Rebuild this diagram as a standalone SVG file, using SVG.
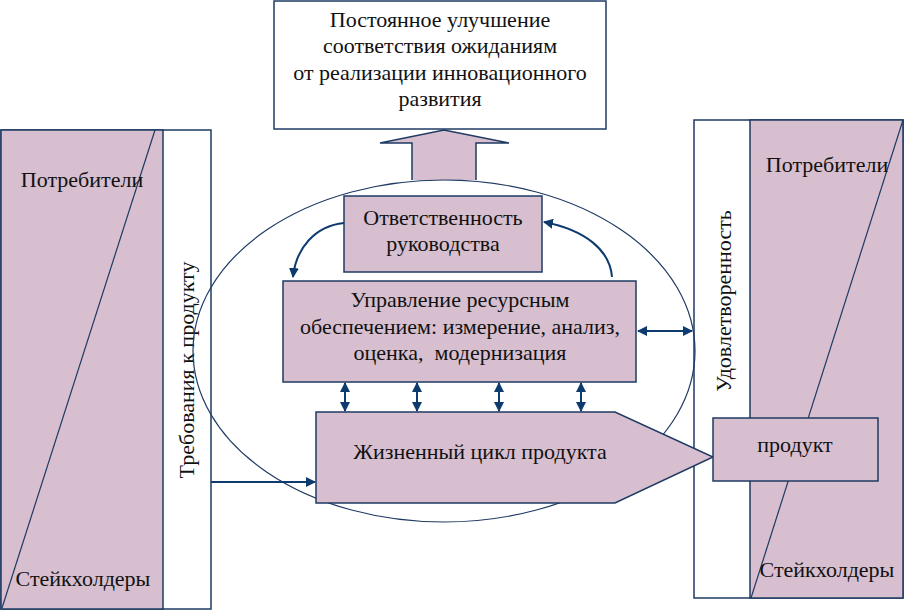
<svg xmlns="http://www.w3.org/2000/svg" width="905" height="611" viewBox="0 0 905 611">
<defs>
<style>
.pink{fill:#d7bfcf;stroke:#1f3a63;stroke-width:1.5}
.white{fill:#fff;stroke:#1f3a63;stroke-width:1.5}
.ln{fill:none;stroke:#1f3a63;stroke-width:1.2}
.ar{fill:none;stroke:#0d3b6e;stroke-width:2}
.t{font-family:'Liberation Serif',serif;font-size:22px;fill:#111;text-anchor:middle}
</style>
<marker id="ah" viewBox="0 0 10 10" refX="9" refY="5" markerWidth="5" markerHeight="5" orient="auto-start-reverse" markerUnits="strokeWidth">
<path d="M0,0 L10,5 L0,10 z" fill="#0d3b6e"/>
</marker>
</defs>
<rect width="905" height="611" fill="#fff"/>

<g id="left-panel">
<rect class="white" x="1" y="130" width="210" height="479"/>
<rect class="pink" x="1" y="130" width="162" height="479"/>
<line class="ln" x1="155" y1="130" x2="2" y2="608"/>
<text class="t" x="82" y="187">Потребители</text>
<text class="t" x="83" y="586">Стейкхолдеры</text>
<text class="t" transform="translate(194,370) rotate(-90)">Требования к продукту</text>
</g>

<g id="right-panel">
<rect class="white" x="694" y="120" width="209" height="478"/>
<rect class="pink" x="750" y="120" width="153" height="478"/>
<line class="ln" x1="903" y1="120" x2="751" y2="598"/>
<text class="t" x="827" y="172">Потребители</text>
<text class="t" x="827" y="577">Стейкхолдеры</text>
<text class="t" transform="translate(731,301) rotate(-90)">Удовлетворенность</text>
</g>

<g id="top-box">
<rect class="white" x="274" y="1" width="332" height="128"/>
<text class="t" x="440" y="27">Постоянное улучшение</text>
<text class="t" x="440" y="53">соответствия ожиданиям</text>
<text class="t" x="440" y="80">от реализации инновационного</text>
<text class="t" x="440" y="106">развития</text>
</g>

<g id="big-arrow">
<path class="pink" d="M412,180 L412,143 L380,143 L444,130 L509,143 L476,143 L476,180"/>
</g>

<g id="ellipse">
<ellipse class="ln" cx="444" cy="351" rx="251" ry="171"/>
</g>

<g id="responsibility">
<rect class="pink" x="344" y="196" width="198" height="76"/>
<text class="t" x="443" y="225">Ответственность</text>
<text class="t" x="443" y="251">руководства</text>
</g>

<g id="resources">
<rect class="pink" x="283" y="281" width="353" height="101"/>
<text class="t" x="460" y="307" font-size="22.5">Управление ресурсным</text>
<text class="t" x="460" y="334" font-size="22.5">обеспечением: измерение, анализ,</text>
<text class="t" x="460" y="360" font-size="22.5" xml:space="preserve">оценка,  модернизация</text>
</g>

<g id="lifecycle">
<path class="pink" d="M316,412 L615,412 L713,457 L615,503 L316,503 Z"/>
<text class="t" x="480" y="459">Жизненный цикл продукта</text>
</g>

<g id="product">
<rect class="pink" x="713" y="418" width="165" height="63"/>
<text class="t" x="795" y="452">продукт</text>
</g>

<g id="connectors">
<path class="ar" d="M344,223 C315,226 296,248 293,277" marker-end="url(#ah)"/>
<path class="ar" d="M612,277 C610,250 585,230 544,222" marker-end="url(#ah)"/>
<line class="ar" x1="638" y1="331" x2="692" y2="331" marker-start="url(#ah)" marker-end="url(#ah)"/>
<line class="ar" x1="345" y1="383" x2="345" y2="411" marker-start="url(#ah)" marker-end="url(#ah)"/>
<line class="ar" x1="417" y1="383" x2="417" y2="411" marker-start="url(#ah)" marker-end="url(#ah)"/>
<line class="ar" x1="499" y1="383" x2="499" y2="411" marker-start="url(#ah)" marker-end="url(#ah)"/>
<line class="ar" x1="581" y1="383" x2="581" y2="411" marker-start="url(#ah)" marker-end="url(#ah)"/>
<line class="ar" x1="211" y1="482" x2="315" y2="482" marker-end="url(#ah)"/>
</g>
</svg>
